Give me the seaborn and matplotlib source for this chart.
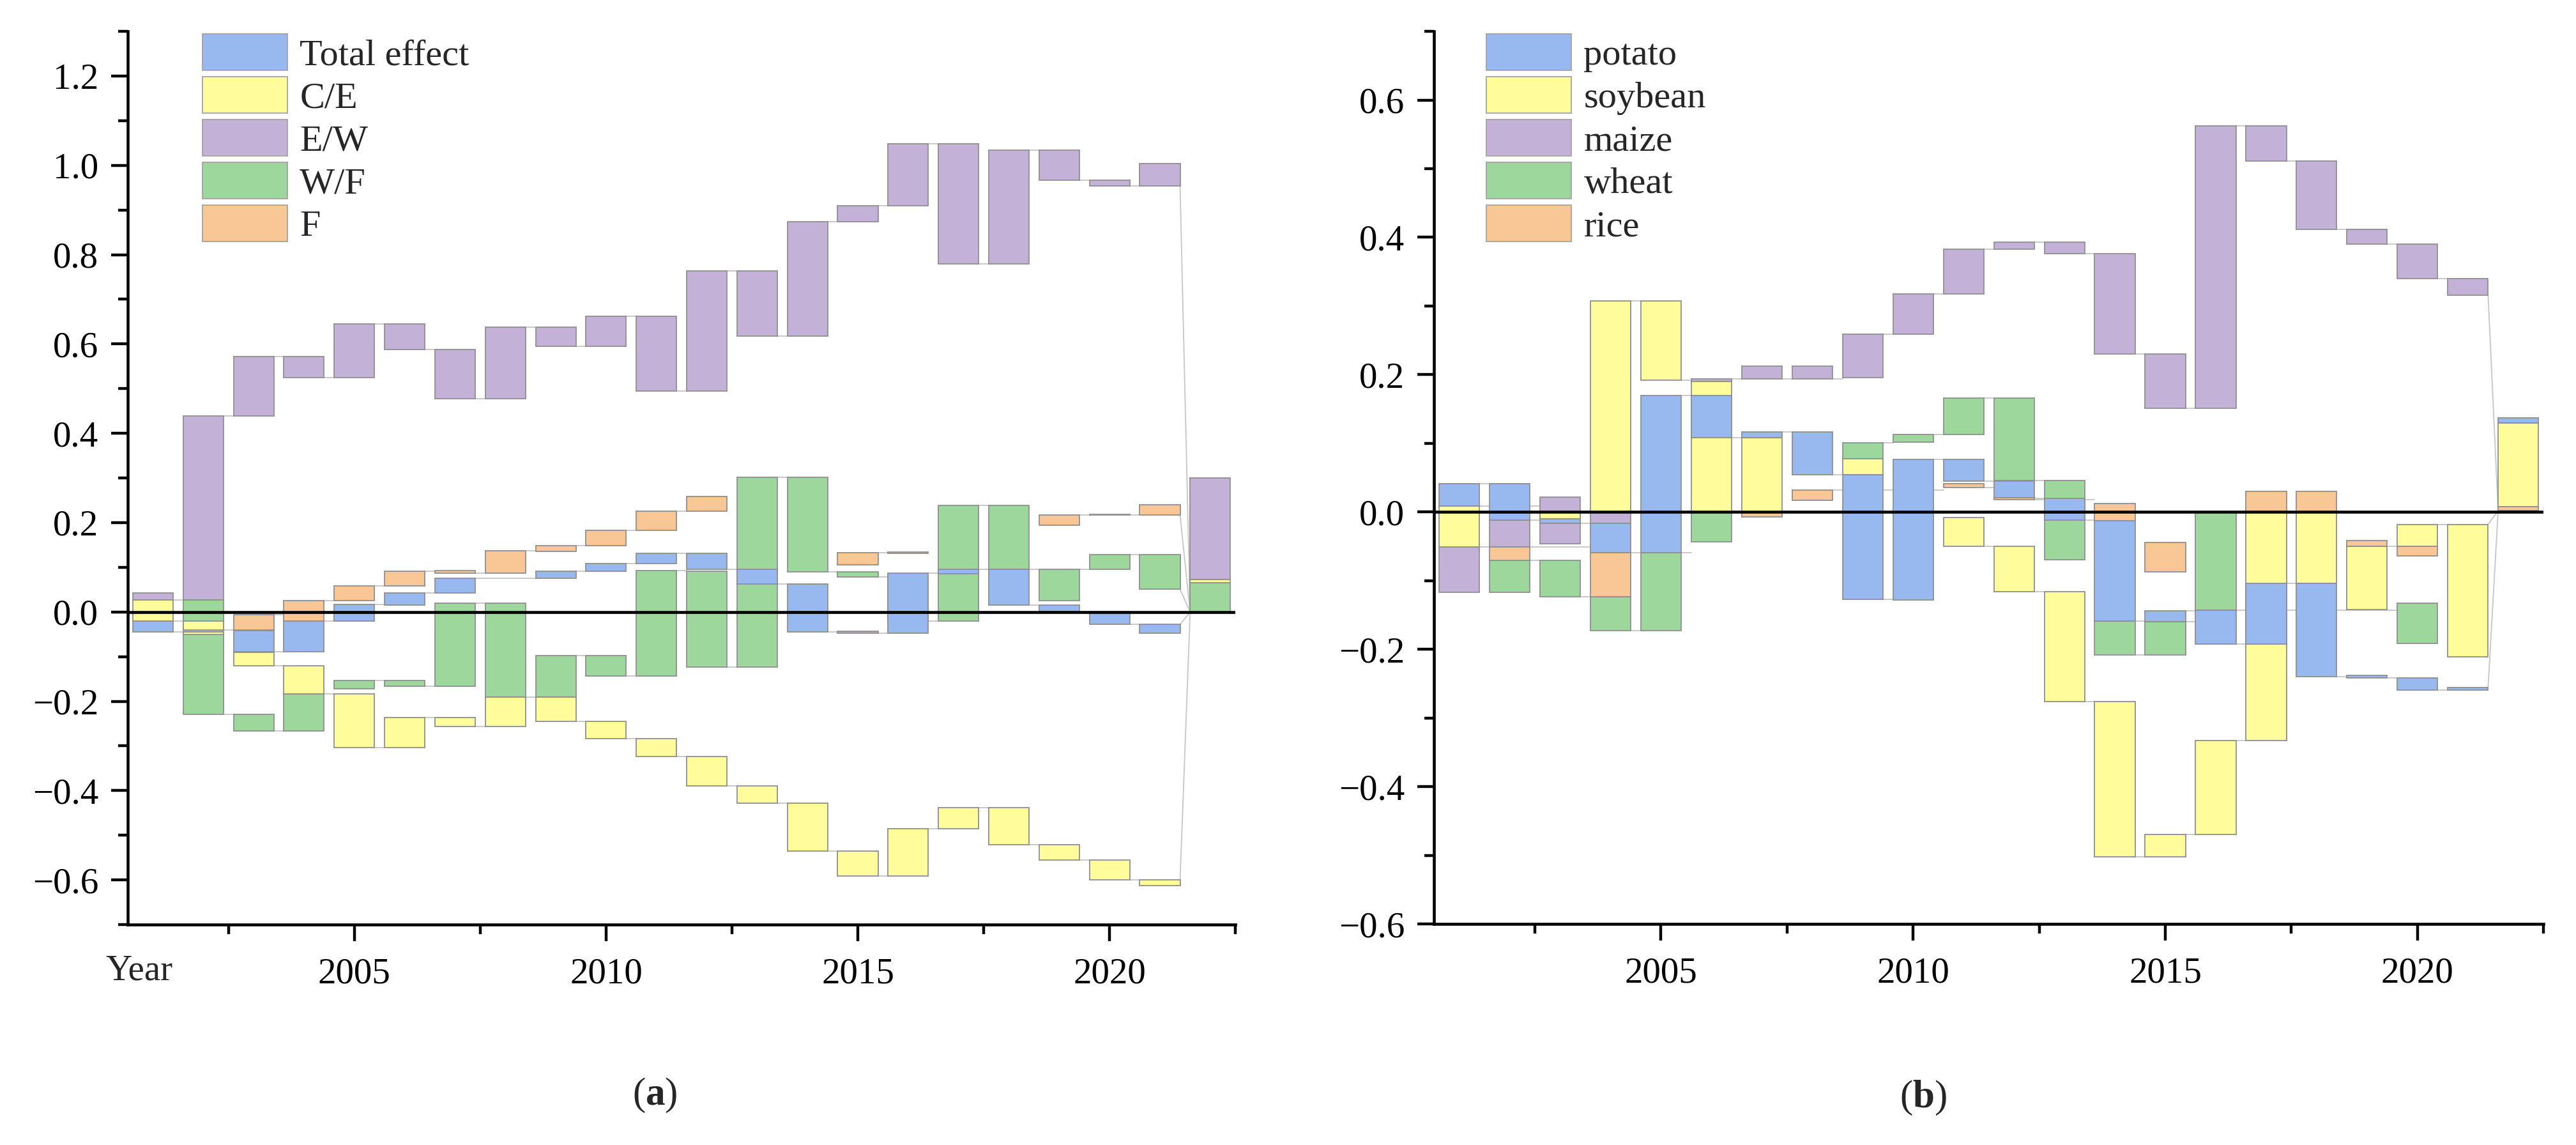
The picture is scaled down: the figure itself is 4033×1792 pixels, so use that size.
import numpy as np
import pandas as pd
import seaborn as sns
import matplotlib
matplotlib.use("Agg")
import matplotlib.pyplot as plt
from matplotlib.ticker import MultipleLocator, FuncFormatter
from matplotlib.patches import Patch

years = list(range(2001, 2023))

## panel (a): bottom / top of every visible bar, None = no bar drawn
a_total_lo = [-0.045, -0.045, -0.089, -0.089, -0.021, 0.016, 0.042, None, 0.075, 0.091, 0.108,
              0.096, 0.062, -0.044, -0.048, -0.048, 0.086, 0.016, 0.001, -0.028, -0.048, None]
a_total_hi = [-0.020, -0.040, -0.042, -0.020, 0.017, 0.042, 0.075, None, 0.091, 0.108, 0.131,
              0.131, 0.096, 0.062, -0.043, 0.087, 0.096, 0.096, 0.016, 0.001, -0.028, None]
a_ce_lo = [-0.020, -0.051, -0.121, -0.183, -0.304, -0.304, -0.257, -0.257, -0.245, -0.283, -0.324,
           -0.389, -0.428, -0.536, -0.591, -0.591, -0.486, -0.521, -0.555, -0.600, -0.613, 0.066]
a_ce_hi = [0.027, -0.021, -0.091, -0.121, -0.183, -0.236, -0.236, -0.190, -0.190, -0.245, -0.283,
           -0.324, -0.389, -0.428, -0.536, -0.486, -0.438, -0.438, -0.521, -0.555, -0.600, 0.072]
a_ew_lo = [0.027, 0.027, 0.439, 0.525, 0.525, 0.587, 0.478, 0.478, 0.595, 0.595, 0.495,
           0.495, 0.617, 0.617, 0.874, 0.910, 0.779, 0.779, 0.967, 0.954, 0.954, 0.072]
a_ew_hi = [0.042, 0.439, 0.572, 0.572, 0.645, 0.645, 0.587, 0.638, 0.638, 0.662, 0.662,
           0.764, 0.764, 0.874, 0.910, 1.049, 1.049, 1.034, 1.034, 0.967, 1.004, 0.300]
a_wf_lo = [None, -0.229, -0.267, -0.267, -0.172, -0.166, -0.166, -0.190, -0.190, -0.143, -0.143,
           -0.124, -0.124, 0.090, 0.078, -0.020, -0.020, 0.096, 0.026, 0.096, 0.051, 0.0]
a_wf_hi = [None, 0.027, -0.229, -0.183, -0.153, -0.153, 0.020, 0.020, -0.098, -0.098, 0.092,
           0.091, 0.302, 0.302, 0.090, 0.078, 0.239, 0.239, 0.096, 0.128, 0.128, 0.065]
a_f_lo = [None, None, -0.040, -0.020, 0.025, 0.059, 0.087, 0.087, 0.136, 0.148, 0.183,
          0.225, None, None, 0.105, 0.131, None, None, 0.194, 0.217, 0.217, None]
a_f_hi = [None, None, -0.006, 0.025, 0.059, 0.091, 0.093, 0.137, 0.148, 0.183, 0.225,
          0.258, None, None, 0.133, 0.134, None, None, 0.217, 0.219, 0.240, None]

## panel (b)
b_potato_lo = [0.009, -0.012, -0.016, -0.059, -0.059, 0.108, 0.108, 0.054, -0.127, -0.128, 0.045,
               0.020, -0.012, -0.159, -0.160, -0.192, -0.192, -0.240, -0.242, -0.259, -0.259, 0.130]
b_potato_hi = [0.041, 0.041, -0.010, -0.016, 0.170, 0.170, 0.117, 0.117, 0.054, 0.077, 0.077,
               0.045, 0.020, -0.013, -0.144, -0.143, -0.104, -0.104, -0.238, -0.242, -0.256, 0.137]
b_soy_lo = [-0.051, None, -0.010, 0.0, 0.192, 0.0, 0.0, None, 0.054, None, -0.050,
            -0.116, -0.276, -0.502, -0.502, -0.470, -0.333, -0.104, -0.142, -0.050, -0.211, 0.008]
b_soy_hi = [0.009, None, 0.0, 0.307, 0.307, 0.190, 0.108, None, 0.078, None, -0.0085,
            -0.050, -0.116, -0.276, -0.470, -0.333, 0.0, 0.0, -0.050, -0.018, -0.018, 0.130]
b_maize_lo = [-0.117, -0.051, -0.046, -0.016, None, 0.190, 0.194, 0.194, 0.196, 0.259, 0.318,
              0.383, 0.376, 0.230, 0.151, 0.151, 0.511, 0.412, 0.390, 0.340, 0.316, None]
b_maize_hi = [-0.051, -0.012, 0.022, 0.0, None, 0.194, 0.2125, 0.2125, 0.259, 0.318, 0.383,
              0.393, 0.393, 0.376, 0.230, 0.562, 0.562, 0.511, 0.412, 0.390, 0.340, None]
b_wheat_lo = [None, -0.117, -0.123, -0.173, -0.173, -0.043, None, None, 0.078, 0.102, 0.113,
              0.046, -0.069, -0.208, -0.208, -0.143, None, None, None, -0.191, None, None]
b_wheat_hi = [None, -0.070, -0.070, -0.123, -0.059, 0.0, None, None, 0.101, 0.113, 0.166,
              0.166, 0.046, -0.159, -0.160, 0.0, None, None, None, -0.133, None, None]
b_rice_lo = [None, -0.070, None, -0.123, None, None, -0.007, 0.017, None, None, 0.036,
             0.018, None, -0.013, -0.087, None, 0.0, 0.0, -0.050, -0.064, None, 0.002]
b_rice_hi = [None, -0.051, None, -0.059, None, None, 0.0, 0.032, None, None, 0.041,
             0.021, None, 0.012, -0.044, None, 0.030, 0.030, -0.042, -0.050, None, 0.008]

blue = '#98B9F0'
yellow = '#FFFC9C'
purple = '#C3B1D7'
green = '#9ED79C'
orange = '#F9C695'
edge = '#8F8F8F'
link = '#C9C9C9'
W = 0.8

sns.set_theme(style='ticks')
plt.rcParams['font.family'] = ['Liberation Serif', 'DejaVu Serif']
plt.rcParams['mathtext.fontset'] = 'custom'
plt.rcParams['mathtext.rm'] = 'Liberation Serif'
plt.rcParams['mathtext.bf'] = 'Liberation Serif:bold'
plt.rcParams['axes.unicode_minus'] = True


def draw_panel(ax, series, draw_order):
    # bars, in the draw order that gives the right overlaps
    for i in draw_order:
        name, lo, hi, color = series[i]
        df = pd.DataFrame({'year': years, 'lo': lo, 'hi': hi}).dropna()
        ax.bar(df['year'], df['hi'] - df['lo'], bottom=df['lo'], width=W,
               color=color, edgecolor=edge, linewidth=1.3, zorder=3)

    # thin linking lines between consecutive bars of one series
    last = years[-1]
    stack = [v for _, lo, hi, _ in series for v in (lo[-1], hi[-1]) if v is not None]
    base = min(stack)
    for name, lo, hi, color in series:
        pts = [(y, l, h) for y, l, h in zip(years, lo, hi) if l is not None and y != last]
        for (y0, l0, h0), (y1, l1, h1) in zip(pts[:-1], pts[1:]):
            best = min(((abs(a - b), a) for a in (l0, h0) for b in (l1, h1)))
            if best[0] < 0.02:
                ax.plot([y0 + W / 2, y1 - W / 2], [best[1], best[1]],
                        color=link, lw=1.4, zorder=2)
        if pts and pts[-1][0] == last - 1:
            y0, l0, h0 = pts[-1]
            lev = min((l0, h0), key=lambda v: abs(v - base))
            ax.plot([y0 + W / 2, last - W / 2], [lev, base], color=link, lw=1.4, zorder=2)

    ax.axhline(0, color='black', lw=3.3, zorder=5)
    ax.set_xlim(2000.5, 2022.5)
    ax.xaxis.set_major_locator(MultipleLocator(5))
    ax.xaxis.set_minor_locator(MultipleLocator(2.5))
    ax.yaxis.set_major_locator(MultipleLocator(0.2))
    ax.yaxis.set_minor_locator(MultipleLocator(0.1))
    ax.yaxis.set_major_formatter(FuncFormatter(
        lambda v, p: ('%.1f' % (round(v, 1) + 0.0)).replace('-', '\u2212')))
    ax.tick_params(axis='both', which='major', length=19, width=3.2,
                   labelsize=41, color='black', labelcolor='black')
    ax.tick_params(axis='y', which='major', pad=14)
    ax.tick_params(axis='x', which='major', pad=18)
    ax.tick_params(axis='both', which='minor', length=11, width=3.2, color='black')
    ax.grid(False)
    sns.despine(ax=ax)
    for s in ('left', 'bottom'):
        ax.spines[s].set_linewidth(3.3)
        ax.spines[s].set_color('black')

    handles = [Patch(facecolor=c, edgecolor='#A3A3A3', linewidth=1.3) for _, _, _, c in series]
    labels = [n for n, _, _, _ in series]
    return handles, labels


fig = plt.figure(figsize=(40.33, 17.92), dpi=100)
ax_a = fig.add_axes([0.0496, 0.1925, 0.4300, 0.7801])
ax_b = fig.add_axes([0.5567, 0.1930, 0.4307, 0.7796])

series_a = [('Total effect', a_total_lo, a_total_hi, blue),
            ('C/E', a_ce_lo, a_ce_hi, yellow),
            ('E/W', a_ew_lo, a_ew_hi, purple),
            ('W/F', a_wf_lo, a_wf_hi, green),
            ('F', a_f_lo, a_f_hi, orange)]
h, l = draw_panel(ax_a, series_a, [2, 4, 3, 1, 0])
ax_a.set_ylim(-0.7, 1.3)
ax_a.legend(h, l, loc='upper left', bbox_to_anchor=(0.0675, 0.997), frameon=False,
            fontsize=42, handlelength=2.28, handleheight=1.11, labelspacing=0.12,
            handletextpad=0.33, borderpad=0, borderaxespad=0)
ax_a.text(0.0104, -0.052, 'Year', transform=ax_a.transAxes, ha='center', va='center',
          fontsize=41)

series_b = [('potato', b_potato_lo, b_potato_hi, blue),
            ('soybean', b_soy_lo, b_soy_hi, yellow),
            ('maize', b_maize_lo, b_maize_hi, purple),
            ('wheat', b_wheat_lo, b_wheat_hi, green),
            ('rice', b_rice_lo, b_rice_hi, orange)]
h, l = draw_panel(ax_b, series_b, [2, 3, 1, 0, 4])
ax_b.set_ylim(-0.6, 0.7)
ax_b.legend(h, l, loc='upper left', bbox_to_anchor=(0.0472, 0.997), frameon=False,
            fontsize=42, handlelength=2.28, handleheight=1.11, labelspacing=0.12,
            handletextpad=0.33, borderpad=0, borderaxespad=0)

fig.text(1025 / 4033, 1 - 1714 / 1792, r'($\mathbf{a}$)', ha='center', va='center', fontsize=44)
fig.text(3011 / 4033, 1 - 1718 / 1792, r'($\mathbf{b}$)', ha='center', va='center', fontsize=44)

fig.savefig('out.png', dpi=100, facecolor='white')
